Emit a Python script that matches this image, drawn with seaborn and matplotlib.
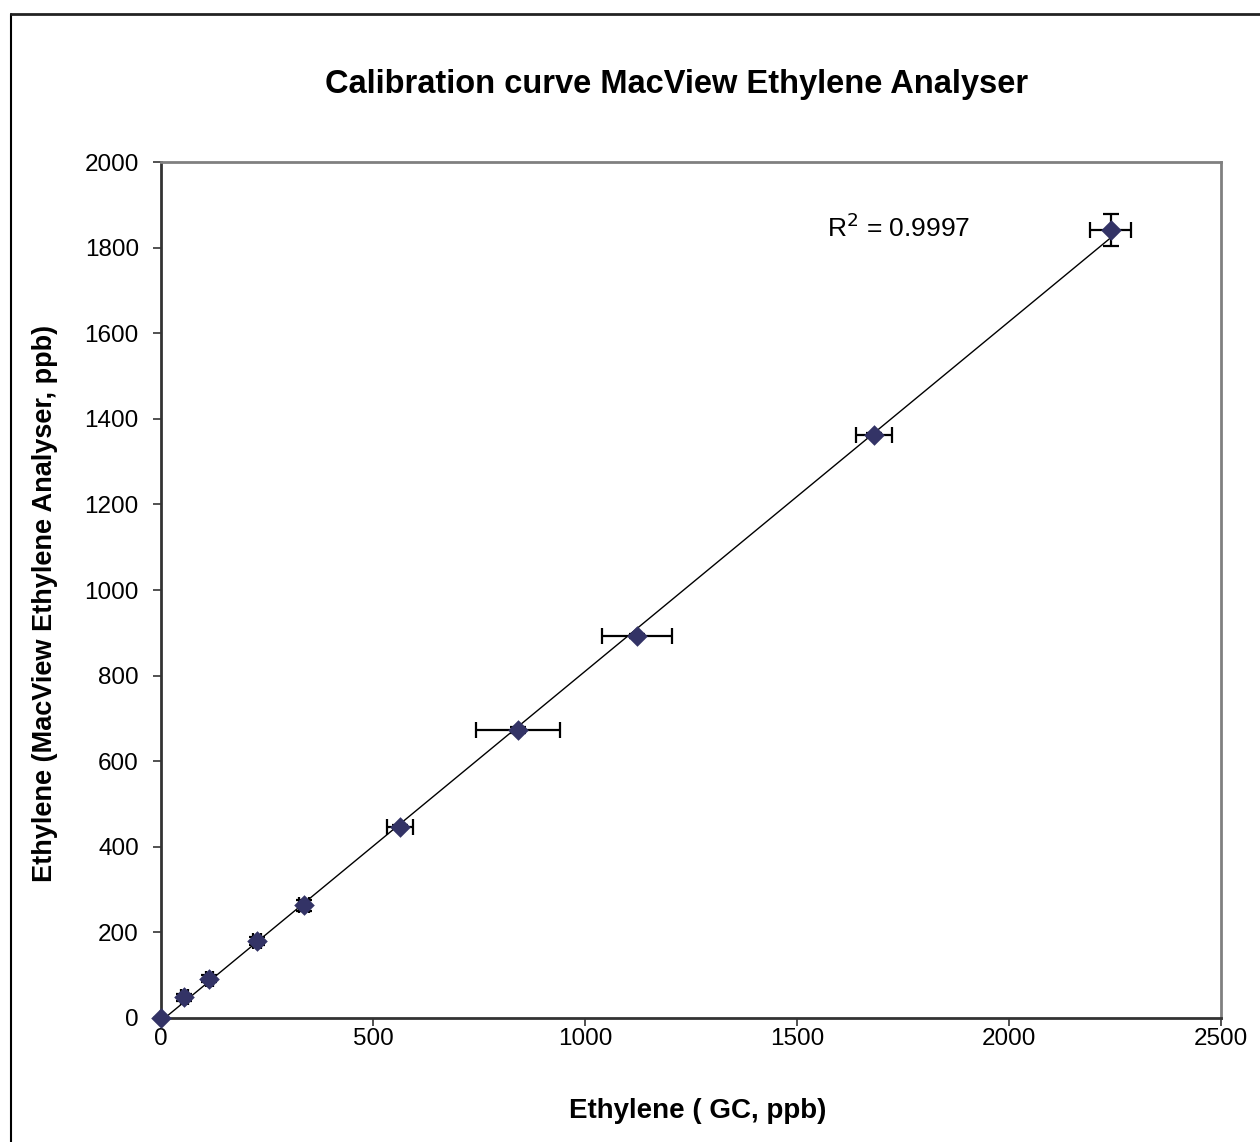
#!/usr/bin/env python
# Calibration curve of the MacView ethylene analyser against GC

import pandas as pd
import seaborn as sns
from matplotlib import pyplot as plt
from matplotlib.lines import Line2D
import matplotlib.ticker as ticker

# values
gc_ppb = [0, 55, 114, 226, 337, 564, 842, 1122, 1682, 2240]
analyser_ppb = [0, 48, 92, 180, 263, 446, 673, 892, 1362, 1841]
gc_err = [0, 8, 9, 9, 12, 31, 99, 83, 42, 48]
analyser_err = [0, 8, 9, 9, 12, 5, 8, 5, 5, 38]
r_squared = "0.9997"

df = pd.DataFrame({"gc": gc_ppb, "mv": analyser_ppb,
                   "xerr": gc_err, "yerr": analyser_err})

sns.set_theme(style="white")
plt.rcParams['font.family'] = ['Liberation Sans', 'DejaVu Sans']
plt.rcParams['text.color'] = 'black'
plt.rcParams['axes.labelcolor'] = 'black'

fig = plt.figure(figsize=(12.6, 11.42), dpi=100)
ax = fig.add_axes([0.1278, 0.1086, 0.8413, 0.7495])

# error bars first so the diamonds sit on top
ax.errorbar(df["gc"], df["mv"], xerr=df["xerr"], yerr=df["yerr"],
            fmt="none", ecolor="black", elinewidth=1.6, capsize=5.5,
            capthick=1.6, zorder=3, clip_on=False)

# linear trend line over the data range
sns.regplot(x="gc", y="mv", data=df, scatter=False, ci=None, ax=ax,
            line_kws={"color": "black", "lw": 1.0, "zorder": 2})

sns.scatterplot(x="gc", y="mv", data=df, ax=ax, marker="D", s=110,
                color="#333366", linewidth=0, zorder=4, clip_on=False)

ax.set_xlim(0, 2500)
ax.set_ylim(0, 2000)
ax.xaxis.set_major_locator(ticker.MultipleLocator(500))
ax.yaxis.set_major_locator(ticker.MultipleLocator(200))

ax.tick_params(axis="both", labelsize=17.5, length=6, width=1.2,
               direction="out", colors="#333333", labelcolor="black",
               bottom=True, left=True)
ax.tick_params(axis="x", pad=1)
ax.tick_params(axis="y", pad=10)

for side in ["top", "right"]:
    ax.spines[side].set_color("#808080")
    ax.spines[side].set_linewidth(2)
for side in ["left", "bottom"]:
    ax.spines[side].set_color("#333333")
    ax.spines[side].set_linewidth(2)

ax.set_xlabel("Ethylene ( GC, ppb)", fontsize=20, fontweight="bold")
ax.set_ylabel("Ethylene (MacView Ethylene Analyser, ppb)", fontsize=19.5,
              fontweight="bold")
ax.xaxis.set_label_coords(0.506, -0.094)
ax.yaxis.set_label_coords(-0.0975, 0.484)

fig.text(0.537, 0.926, "Calibration curve MacView Ethylene Analyser",
         ha="center", va="center", fontsize=23.5, fontweight="bold")

ax.text(1571, 1846, "R$^2$ = " + r_squared, ha="left", va="center",
        fontsize=19)

# outer chart border (runs off the right and bottom of the page)
fig.add_artist(Line2D([0.0087, 0.0087], [-0.1, 0.9877], color="black", lw=1.5))
fig.add_artist(Line2D([0.0087, 1.1], [0.9877, 0.9877], color="#222222", lw=2))

fig.savefig("out.png", dpi=100)
